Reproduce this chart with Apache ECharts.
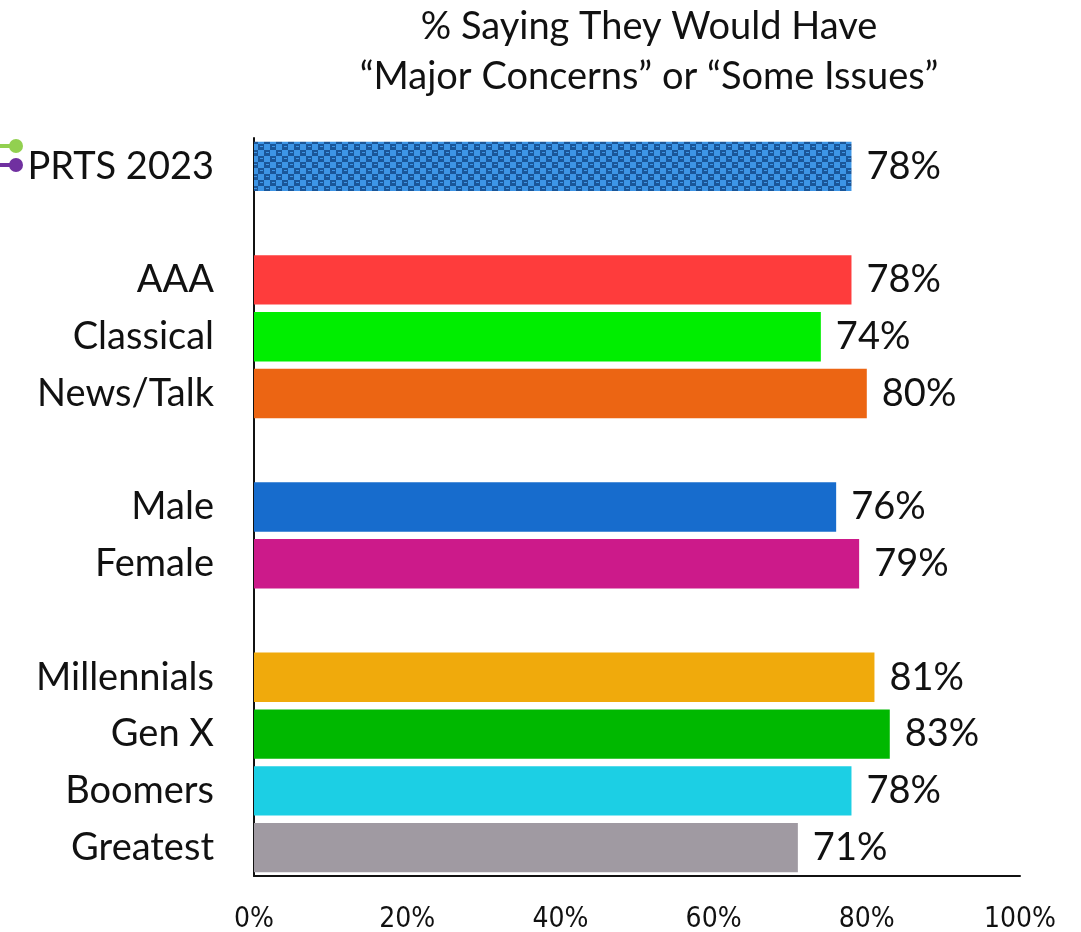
<!DOCTYPE html>
<html><head><meta charset="utf-8">
<script src="https://cdn.jsdelivr.net/npm/echarts@6/dist/echarts.min.js"></script>
<style>html,body{margin:0;padding:0;background:#fff}#c{width:1081px;height:932px}</style>
</head><body><div id="c"></div>
<script>
const categories = ['PRTS 2023', ' ', 'AAA', 'Classical', 'News/Talk', '  ', 'Male', 'Female', '   ', 'Millennials', 'Gen X', 'Boomers', 'Greatest'];
const values = [78, null, 78, 74, 80, null, 76, 79, null, 81, 83, 78, 71];
const barColors = ['pattern', null, '#fe3c3c', '#00ee00', '#ec6513', null, '#176ccd', '#cc1a8a', null, '#f0aa0c', '#00b800', '#1ccfe4', '#a09aa2'];
const xTicks = [0, 20, 40, 60, 80, 100];
const titleLines = ['% Saying They Would Have', '\u201CMajor Concerns\u201D or \u201CSome Issues\u201D'];

// checker pattern for PRTS bar
const pc = document.createElement('canvas');
pc.width = 12; pc.height = 12;
const g = pc.getContext('2d');
g.fillStyle = '#1a5699'; g.fillRect(0, 0, 12, 12);
g.fillStyle = '#3d95e6';
g.fillRect(0, 0, 6, 6); g.fillRect(6, 6, 6, 6);
g.fillRect(8, 2, 3, 1); g.fillRect(2, 8, 3, 1);
const pattern = { image: pc, repeat: 'repeat' };

const chart = echarts.init(document.getElementById('c'));
const font = 'Lato, "Open Sans", sans-serif';
chart.setOption({
  animation: false,
  backgroundColor: '#fff',
  title: {
    text: titleLines.join('\n'),
    left: 644, top: -3, textAlign: 'center',
    textStyle: { fontFamily: font, fontSize: 38, fontWeight: 'normal', color: '#111', lineHeight: 50 }
  },
  grid: { left: 254, right: 61, top: 138, bottom: 56, containLabel: false, outerBoundsMode: 'none' },
  xAxis: {
    type: 'value', min: 0, max: 100, interval: 20,
    axisLine: { show: true, lineStyle: { color: '#111', width: 2 } },
    axisTick: { show: false },
    splitLine: { show: false },
    axisLabel: {
      margin: 30, fontFamily: '"Liberation Sans Narrow", "DejaVu Sans Condensed", sans-serif', fontSize: 28, color: '#111',
      formatter: v => xTicks.includes(v) ? v + '%' : ''
    }
  },
  yAxis: {
    type: 'category', inverse: true, data: categories,
    axisLine: { show: true, lineStyle: { color: '#111', width: 2 } },
    axisTick: { show: false },
    axisLabel: { margin: 40, fontFamily: font, fontSize: 38, color: '#111' }
  },
  series: [{
    type: 'bar', barWidth: '87%',
    data: values.map((v, i) => ({ value: v, itemStyle: { color: barColors[i] === 'pattern' ? pattern : barColors[i] } })),
    label: {
      show: true, position: 'right', distance: 15,
      fontFamily: font, fontSize: 38, color: '#111',
      formatter: p => p.value == null ? '' : p.value + '%'
    }
  }],
  graphic: [
    { type: 'line', shape: { x1: 0, y1: 146, x2: 14, y2: 146 }, style: { stroke: '#92d050', lineWidth: 4 } },
    { type: 'circle', shape: { cx: 16, cy: 146, r: 7 }, style: { fill: '#92d050' } },
    { type: 'line', shape: { x1: 0, y1: 165, x2: 14, y2: 165 }, style: { stroke: '#7030a0', lineWidth: 4 } },
    { type: 'circle', shape: { cx: 16, cy: 165, r: 7 }, style: { fill: '#7030a0' } }
  ]
});
</script></body></html>
